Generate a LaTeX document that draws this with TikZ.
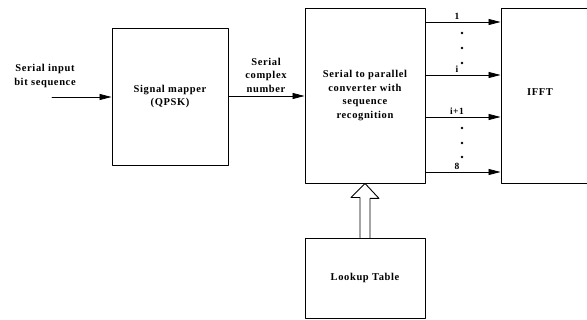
\documentclass[tikz,border=0pt]{standalone}
\usepackage{fontspec}
\setmainfont{Liberation Serif}[LetterSpace=6]
\usetikzlibrary{arrows.meta}

\begin{document}
\begin{tikzpicture}[x=1pt, y=-1pt, >={Triangle[length=12pt,width=6pt]},
  font=\bfseries\fontsize{10.5}{13.5}\selectfont, line cap=round, line join=round,
  blk/.style={draw, line width=0.9pt, inner sep=0pt, align=center},
  sig/.style={->, line width=0.8pt}]

  %% ---- frame ----
  \clip (0,0) rectangle (587,320);

  %% ---- blocks ----
  \node[blk, minimum width=116, minimum height=137] (mapper) at (170,96.5)
    {Signal mapper\\(QPSK)};
  \node[blk, minimum width=120, minimum height=175] (conv) at (365,95.5)
    {Serial to parallel\\converter with\\sequence\\recognition};
  \node[blk, minimum width=100, minimum height=175] (ifft) at (551,95.5) {};
  \node at (540,92) (ifftlab) {IFFT};
  \node[blk, minimum width=120, minimum height=80] (lookup) at (365,278)
    {Lookup Table};

  %% ---- serial input ----
  \coordinate (src) at (52,97);
  \node[align=center] (inlab) at (45,76) {Serial input\\bit sequence};
  \draw[sig] (src) -- (src -| mapper.west);

  %% ---- serial complex number ----
  \draw[sig] (mapper.east |- 0,96) -- (conv.west |- 0,96);
  \node[align=center] (outlab) at (266,75) {Serial\\complex\\number};

  %% ---- parallel outputs ----
  \foreach \yy/\lab in {22/1, 75/i, 117/i+1, 172/8}
    \draw[sig] (conv.east |- 0,\yy) -- (ifft.west |- 0,\yy)
      node[pos=0.42, above=-1.5pt, font=\bfseries\fontsize{9.5}{11}\selectfont] {\lab};
  \foreach \yy in {33,48,63,128,143,157}
    \fill (462,\yy) circle (1.4pt);

  %% ---- lookup feed (hollow arrow) ----
  \draw[line width=0.9pt] (lookup.north) ++(-5,0) -- ++(0,-40) -- ++(-9,0)
    -- (conv.south) -- ++(14,15) -- ++(-9,0) -- ++(0,40);

\end{tikzpicture}
\end{document}
